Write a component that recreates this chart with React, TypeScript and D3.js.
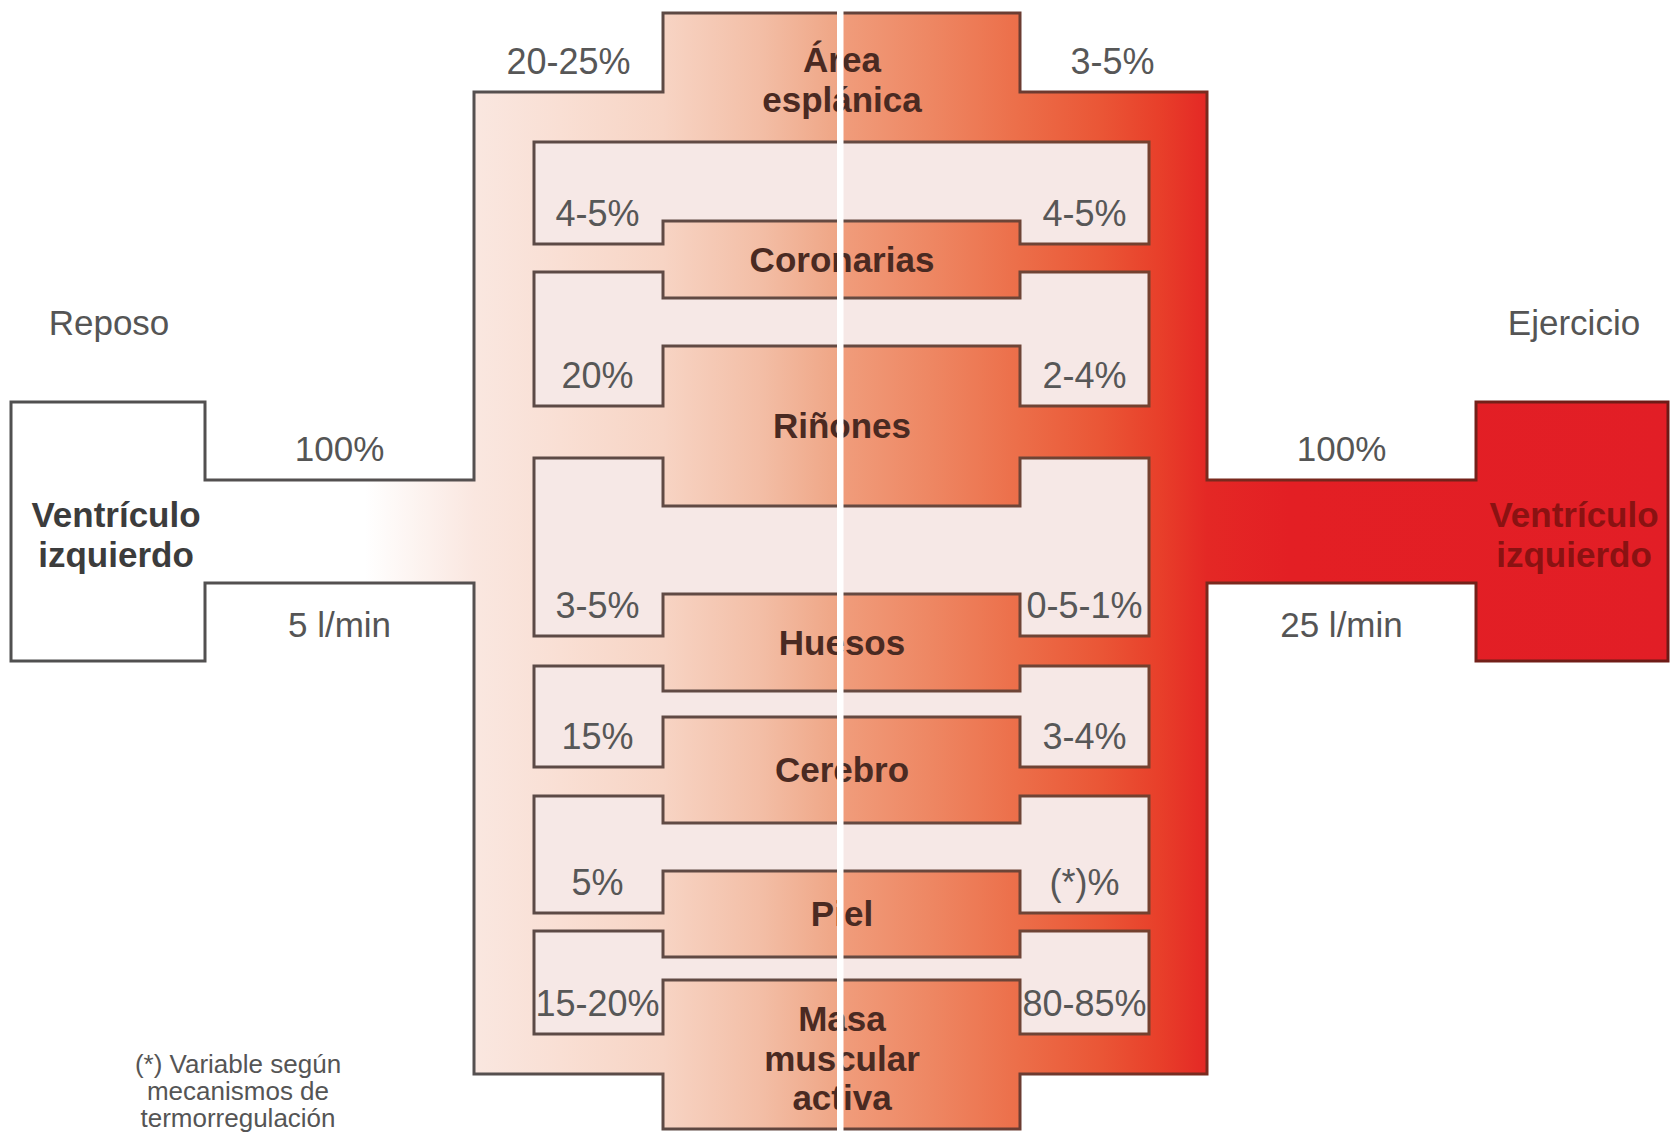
import React from "react";
import * as d3 from "d3";

// ---------- data ----------
const conditions = ["Reposo", "Ejercicio"];
const totalShare = ["100%", "100%"];
const cardiacOutput = ["5 l/min", "25 l/min"];
const ventricleLabel = ["Ventrículo", "izquierdo"];
const organs = [
  ["Área", "esplánica"],
  ["Coronarias"],
  ["Riñones"],
  ["Huesos"],
  ["Cerebro"],
  ["Piel"],
  ["Masa", "muscular", "activa"],
];
const restShare = ["20-25%", "4-5%", "20%", "3-5%", "15%", "5%", "15-20%"];
const exerciseShare = ["3-5%", "4-5%", "2-4%", "0-5-1%", "3-4%", "(*)%", "80-85%"];
const footnote = ["(*) Variable según", "mecanismos de", "termorregulación"];

// ---------- layout ----------
const W = 1671;
const H = 1132;
const X = {
  boxL: 11, neckL: 205, outerL: 474, islandL: 534, midL: 663, center: 842, divider: 840,
  midR: 1020, islandR: 1149, outerR: 1207, neckR: 1476, boxR: 1668,
};
const Y = { top: 13, shoulder: 92, boxT: 402, neckT: 480, neckB: 583, boxB: 661, bottom: 1074, end: 1129 };
// islands between organ branches: [sideTop, midTop, midBottom, sideBottom]
const islands = [
  [142, 142, 221, 244],
  [272, 298, 346, 406],
  [458, 506, 594, 636],
  [666, 691, 717, 767],
  [796, 823, 871, 913],
  [931, 957, 980, 1034],
];

const FONT = "'Liberation Sans', Arial, Helvetica, sans-serif";
const xs = d3.scaleLinear().domain([0, W]).range([0, 1]);

const fillStops: [number, string][] = [
  [0, "#ffffff"], [365, "#ffffff"], [474, "#fae7e0"], [560, "#f9dfd4"],
  [663, "#f7d4c4"], [760, "#f3bea6"], [836, "#efa686"], [844, "#f09c7b"],
  [930, "#ee8763"], [1020, "#ec6e49"], [1100, "#ea5636"], [1160, "#e83f2a"],
  [1207, "#e42825"], [1290, "#e31f24"], [W, "#e21e26"],
];
const strokeStops: [number, string][] = [
  [0, "#505050"], [474, "#555050"], [700, "#5e4842"], [1000, "#6a3e34"],
  [1207, "#7a2a1e"], [W, "#6e1a16"],
];
const islandStrokeStops: [number, string][] = [
  [534, "#5c4a46"], [842, "#654a42"], [1149, "#74402e"],
];

function outlinePath() {
  const p = d3.path();
  const pts: [number, number][] = [
    [X.boxL, Y.boxT], [X.neckL, Y.boxT], [X.neckL, Y.neckT], [X.outerL, Y.neckT],
    [X.outerL, Y.shoulder], [X.midL, Y.shoulder], [X.midL, Y.top], [X.midR, Y.top],
    [X.midR, Y.shoulder], [X.outerR, Y.shoulder], [X.outerR, Y.neckT], [X.neckR, Y.neckT],
    [X.neckR, Y.boxT], [X.boxR, Y.boxT], [X.boxR, Y.boxB], [X.neckR, Y.boxB],
    [X.neckR, Y.neckB], [X.outerR, Y.neckB], [X.outerR, Y.bottom], [X.midR, Y.bottom],
    [X.midR, Y.end], [X.midL, Y.end], [X.midL, Y.bottom], [X.outerL, Y.bottom],
    [X.outerL, Y.neckB], [X.neckL, Y.neckB], [X.neckL, Y.boxB], [X.boxL, Y.boxB],
  ];
  pts.forEach(([x, y], i) => (i === 0 ? p.moveTo(x, y) : p.lineTo(x, y)));
  p.closePath();
  return p.toString();
}

function islandPath(isl: number[]) {
  const [yT, yMT, yMB, yB] = isl;
  const p = d3.path();
  const pts: [number, number][] = [
    [X.islandL, yT], [X.midL, yT], [X.midL, yMT], [X.midR, yMT], [X.midR, yT],
    [X.islandR, yT], [X.islandR, yB], [X.midR, yB], [X.midR, yMB], [X.midL, yMB],
    [X.midL, yB], [X.islandL, yB],
  ];
  pts.forEach(([x, y], i) => (i === 0 ? p.moveTo(x, y) : p.lineTo(x, y)));
  p.closePath();
  return p.toString();
}

function bandCenter(i: number) {
  const top = i === 0 ? Y.top : islands[i - 1][2];
  const bottom = i === organs.length - 1 ? Y.end : islands[i][1];
  return (top + bottom) / 2;
}

function shareY(i: number) {
  return i === 0 ? Y.shoulder - 31 : islands[i - 1][3] - 31;
}

export default function App() {
  const grad = (id: string, stops: [number, string][]) => (
    <linearGradient id={id} gradientUnits="userSpaceOnUse" x1={0} y1={0} x2={W} y2={0}>
      {stops.map(([x, c], i) => (
        <stop key={i} offset={xs(x)} stopColor={c} />
      ))}
    </linearGradient>
  );

  const lineH = 39.5;
  const leftNeckX = (X.neckL + X.outerL) / 2;
  const rightNeckX = (X.outerR + X.neckR) / 2;

  return (
    <svg
      width={W}
      height={H}
      viewBox={`0 0 ${W} ${H}`}
      style={{ position: "absolute", left: 0, top: 0, background: "#ffffff" }}
      fontFamily={FONT}
    >
      <defs>
        {grad("flowFill", fillStops)}
        {grad("flowStroke", strokeStops)}
        {grad("islandStroke", islandStrokeStops)}
      </defs>
      <rect x={0} y={0} width={W} height={H} fill="#ffffff" />

      {/* flow outline */}
      <path d={outlinePath()} fill="url(#flowFill)" stroke="url(#flowStroke)" strokeWidth={3} strokeLinejoin="miter" />

      {/* islands between branches */}
      {islands.map((isl, i) => (
        <path key={i} d={islandPath(isl)} fill="#f6e8e6" stroke="url(#islandStroke)" strokeWidth={3} />
      ))}

      {/* condition labels */}
      <text x={109} y={323} dy="0.35em" textAnchor="middle" fontSize={35} fill="#555555">{conditions[0]}</text>
      <text x={1574} y={323} dy="0.35em" textAnchor="middle" fontSize={35} fill="#555555">{conditions[1]}</text>

      {/* neck labels */}
      <text x={leftNeckX} y={Y.neckT - 31} dy="0.35em" textAnchor="middle" fontSize={35} fill="#555555">{totalShare[0]}</text>
      <text x={leftNeckX} y={Y.neckB + 42} dy="0.35em" textAnchor="middle" fontSize={35} fill="#555555">{cardiacOutput[0]}</text>
      <text x={rightNeckX} y={Y.neckT - 31} dy="0.35em" textAnchor="middle" fontSize={35} fill="#555555">{totalShare[1]}</text>
      <text x={rightNeckX} y={Y.neckB + 42} dy="0.35em" textAnchor="middle" fontSize={35} fill="#555555">{cardiacOutput[1]}</text>

      {/* ventricles */}
      {ventricleLabel.map((t, i) => (
        <text key={"vl" + i} x={116} y={515 + i * 40} dy="0.35em" textAnchor="middle" fontSize={35} fontWeight="bold" fill="#3c3c3c">{t}</text>
      ))}
      {ventricleLabel.map((t, i) => (
        <text key={"vr" + i} x={(X.neckR + X.boxR) / 2 + 2} y={515 + i * 40} dy="0.35em" textAnchor="middle" fontSize={35} fontWeight="bold" fill="#8a1212">{t}</text>
      ))}

      {/* percentages */}
      {restShare.map((t, i) => (
        <text key={"r" + i} x={i === 0 ? (X.outerL + X.midL) / 2 : (X.islandL + X.midL) / 2 - 1} y={shareY(i)} dy="0.35em" textAnchor="middle" fontSize={36} fill="#575757">{t}</text>
      ))}
      {exerciseShare.map((t, i) => (
        <text key={"e" + i} x={i === 0 ? (X.midR + X.outerR) / 2 - 1 : (X.midR + X.islandR) / 2} y={shareY(i)} dy="0.35em" textAnchor="middle" fontSize={36} fill="#575757">{t}</text>
      ))}

      {/* organ names */}
      {organs.map((lines, i) => {
        const c = bandCenter(i) + (i === 0 ? 2 : i === organs.length - 1 ? 4 : 0);
        return lines.map((t, j) => (
          <text key={"o" + i + "-" + j} x={X.center} y={c + (j - (lines.length - 1) / 2) * lineH} dy="0.35em" textAnchor="middle" fontSize={35} fontWeight="bold" fill="#4a2a22">{t}</text>
        ));
      })}

      {/* central divider */}
      <rect x={X.divider - 3} y={Y.top - 3} width={6.5} height={H} fill="#ffffff" />

      {/* footnote */}
      {footnote.map((t, i) => (
        <text key={"f" + i} x={238} y={1064 + i * 27} dy="0.35em" textAnchor="middle" fontSize={26} fill="#555555">{t}</text>
      ))}
    </svg>
  );
}
